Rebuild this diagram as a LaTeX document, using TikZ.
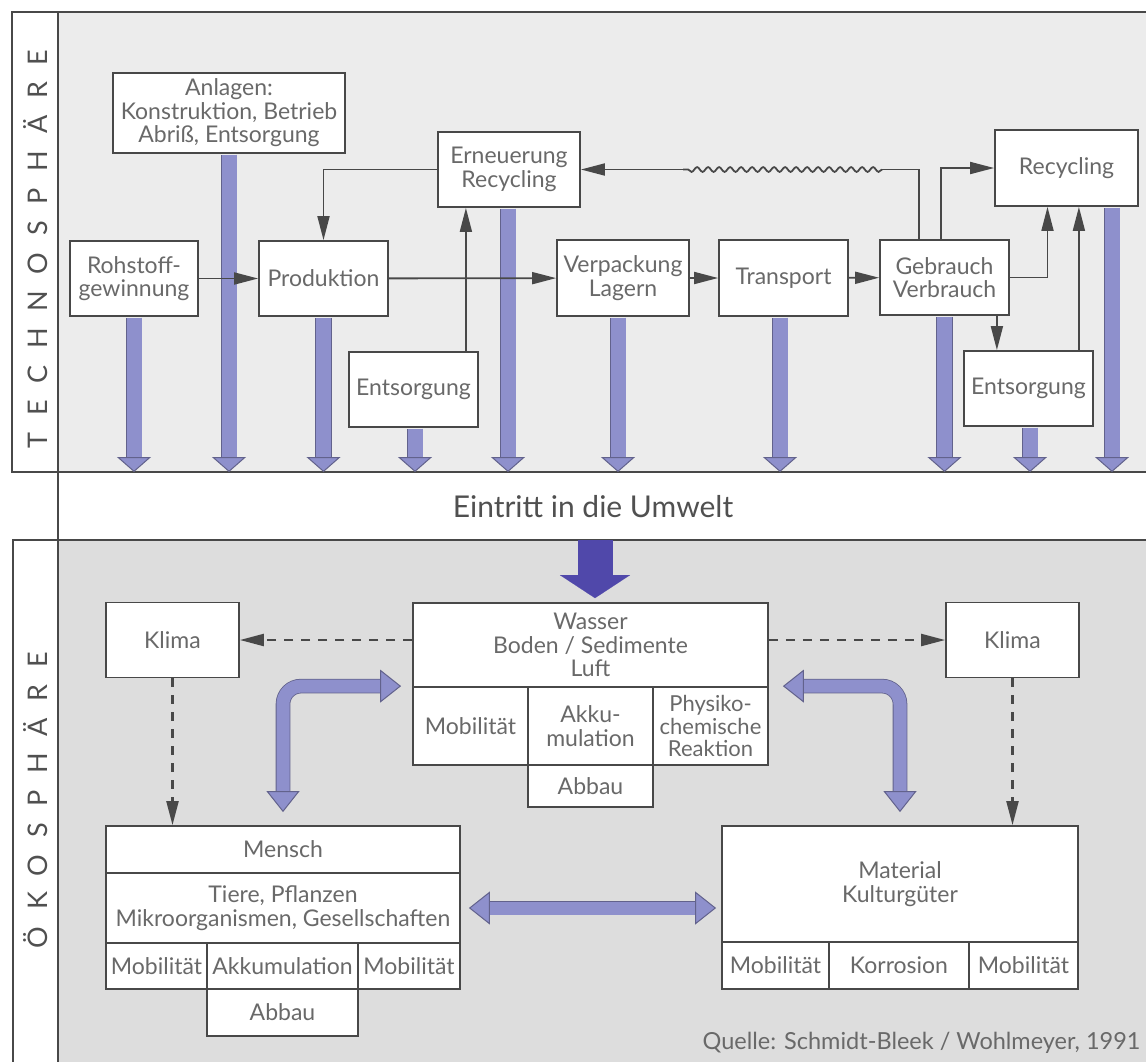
\documentclass[tikz,border=0pt]{standalone}
\usepackage{fontspec}
\setmainfont{Lato}
\newfontfamily\spacedfont[LetterSpace=62]{Lato}
\usepackage{tikz}
\usetikzlibrary{calc}
\usetikzlibrary{arrows.meta}
\usetikzlibrary{decorations.pathmorphing}

\definecolor{linegray}{RGB}{72,72,72}
\definecolor{txt}{RGB}{105,105,105}
\definecolor{lbl}{RGB}{80,80,80}
\definecolor{lav}{RGB}{142,144,204}
\definecolor{lavd}{RGB}{98,98,140}
\definecolor{dblue}{RGB}{80,72,170}
\definecolor{tgray}{RGB}{236,236,236}
\definecolor{bgray}{RGB}{221,221,221}

\begin{document}
\begin{tikzpicture}[x=1pt,y=-1pt,>={Triangle[length=24pt,width=12pt]},
	box/.style={draw=linegray,fill=white,line width=1.8pt,inner sep=1pt,align=center,text=txt,font=\fontsize{23}{23.5}\selectfont},
	sz/.style 2 args={minimum width=#1pt,minimum height=#2pt},
	conn/.style={draw=linegray,line width=1.8pt},
	dashline/.style={line width=2.2pt,dash pattern=on 9pt off 8pt},
	fat/.style={line width=15pt,draw=lav,shorten <=0.9pt,-{Triangle[length=15pt,width=34pt,line width=1pt,fill=lav,color=lavd]},preaction={draw=lavd,line width=16.6pt,arrows=-,shorten >=13pt}},
	bent/.style={line width=13pt,draw=lav,rounded corners=18pt,{Triangle[length=21pt,width=33pt,line width=1pt,fill=lav,color=lavd]}-{Triangle[length=21pt,width=33pt,line width=1pt,fill=lav,color=lavd]},preaction={draw=lavd,line width=14.6pt,arrows=-,shorten >=19pt,shorten <=19pt}},
	dkfat/.style={line width=35pt,draw=dblue,-{Triangle[length=23pt,width=70pt,line width=0.1pt]}},
	]

	\useasboundingbox (0,0) rectangle (1146,1061);
	\clip (0,0) rectangle (1146,1061);
	\fill[tgray] (58,12) rectangle (1160,472);
	\fill[bgray] (58,540) rectangle (1160,1075);
	\draw[linegray,line width=1.6pt] (12,12) rectangle (1160,472);
	\draw[linegray,line width=1.6pt] (13,540) rectangle (1160,1075);
	\draw[linegray,line width=1.6pt] (58,12) -- (58,1075);
	\coordinate (tb) at (0,472);
	\coordinate (bt) at (0,540);

	\node[rotate=90,text=lbl,font=\spacedfont\fontsize{27}{27}\selectfont] (techno) at (36,249) {TECHNOSPHÄRE};
	\node[rotate=90,text=lbl,font=\spacedfont\fontsize{27}{27}\selectfont] (oeko) at (36,800) {ÖKOSPHÄRE};
	\node[text=lbl,font=\fontsize{30}{30}\selectfont] (eintritt) at (593,507) {Eintritt in die Umwelt};

	\node[box,sz={232}{80}] (anl) at (229,113) {Anlagen:\\Konstruktion, Betrieb\\Abriß, Entsorgung};
	\node[box,sz={128}{75}] (roh) at (134,278.5) {Rohstoff-\\gewinnung};
	\node[box,sz={129}{75}] (prod) at (323.5,278.5) {Produktion};
	\node[box,sz={129}{75}] (ents1) at (413.5,389.5) {Entsorgung};
	\node[box,sz={142}{75}] (ern) at (509,169.5) {Erneuerung\\Recycling};
	\node[box,sz={132}{76}] (verp) at (623,278) {Verpackung\\Lagern};
	\node[box,sz={129}{76}] (trans) at (783.5,278) {Transport};
	\node[box,sz={129}{75}] (gebr) at (944.5,277.5) {Gebrauch\\Verbrauch};
	\node[box,sz={143}{76}] (recy) at (1066.5,168) {Recycling};
	\node[box,sz={129}{75}] (ents2) at (1028.5,388.5) {Entsorgung};

	\draw[fat] (roh.south) -- (roh.south |- tb);
	\draw[fat] (anl.south) -- (anl.south |- tb);
	\draw[fat] (prod.south) -- (prod.south |- tb);
	\draw[fat] ([xshift=1.5pt]ents1.south) -- ([xshift=1.5pt]ents1.south |- tb);
	\draw[fat] ([xshift=-1pt]ern.south) -- ([xshift=-1pt]ern.south |- tb);
	\draw[fat] ([xshift=-5pt]verp.south) -- ([xshift=-5pt]verp.south |- tb);
	\draw[fat] ([xshift=-3.5pt]trans.south) -- ([xshift=-3.5pt]trans.south |- tb);
	\draw[fat] (gebr.south) -- (gebr.south |- tb);
	\draw[fat] ([xshift=1.5pt]ents2.south) -- ([xshift=1.5pt]ents2.south |- tb);
	\draw[fat] ([xshift=45.5pt]recy.south) -- ([xshift=45.5pt]recy.south |- tb);

	\draw[conn,->] (roh) -- (prod);
	\draw[conn,->] (prod) -- (verp);
	\draw[conn,->] (verp) -- (trans);
	\draw[conn,->] (trans) -- (gebr);
	\draw[conn,->] (ern.west) -| (prod.north);
	\draw[conn,->] ([xshift=-13pt]ents1.north east) -- ([xshift=-13pt]ents1.north east |- ern.south);
	\coordinate (w1) at (882,169.5);
	\coordinate (w2) at (683,169.5);
	\draw[conn] ([xshift=40pt]gebr.north west) |- (w1);
	\draw[conn,decorate,decoration={snake,amplitude=2.4pt,segment length=11pt}] (w1) -- (w2);
	\draw[conn,->] (w2) -- (ern.east);
	\draw[conn,->] ([xshift=62pt]gebr.north west) |- (recy.west);
	\draw[conn,->] (gebr.east) -| ([xshift=-19pt]recy.south);
	\draw[conn,->] ([xshift=-13pt]gebr.south east) -- ([xshift=-13pt]gebr.south east |- ents2.north);
	\draw[conn,->] ([xshift=-15pt]ents2.north east) -- ([xshift=-15pt]ents2.north east |- recy.south);

	\node[box,sz={133}{75}] (klima1) at (172.5,640) {Klima};
	\node[box,sz={355}{84}] (wasser) at (590.5,645) {Wasser\\Boden / Sedimente\\Luft};
	\node[box,sz={115}{78}] (mob1) at (470.5,726) {Mobilität};
	\node[box,sz={125}{78}] (akku1) at (590.5,726) {Akku-\\mulation};
	\node[box,sz={115}{78},font=\fontsize{22}{22.5}\selectfont] (phys) at (710.5,726) {Physiko-\\chemische\\Reaktion};
	\node[box,sz={125}{42}] (abbau1) at (590.5,786) {Abbau};
	\node[box,sz={133}{75}] (klima2) at (1012.5,640) {Klima};
	\node[box,sz={354}{47}] (mensch) at (283,849.5) {Mensch};
	\node[box,sz={354}{70}] (tiere) at (283,908) {Tiere, Pflanzen\\Mikroorganismen, Gesellschaften};
	\node[box,sz={101}{46}] (mob2) at (156.5,966) {Mobilität};
	\node[box,sz={151}{46}] (akku2) at (282.5,966) {Akkumulation};
	\node[box,sz={102}{46}] (mob3) at (409,966) {Mobilität};
	\node[box,sz={151}{47}] (abbau2) at (282.5,1012.5) {Abbau};
	\node[box,sz={356}{116}] (mat) at (900,884) {Material\\Kulturgüter};
	\node[box,sz={107}{47}] (mob4) at (775.5,965.5) {Mobilität};
	\node[box,sz={140}{47}] (korr) at (899,965.5) {Korrosion};
	\node[box,sz={109}{47}] (mob5) at (1023.5,965.5) {Mobilität};
	\node[anchor=east,text=txt,font=\fontsize{23.5}{23.5}\selectfont] (quelle) at (1144,1043) {Quelle: Schmidt-Bleek / Wohlmeyer, 1991};

	\draw[dkfat] ([xshift=4.5pt]wasser.north |- bt) -- ([xshift=4.5pt,yshift=4pt]wasser.north);
	\draw[conn,dashline,->] (wasser.west |- klima1.east) -- (klima1.east);
	\draw[conn,dashline,->] (wasser.east |- klima2.west) -- (klima2.west);
	\draw[conn,dashline,->] (klima1.south) -- (klima1.south |- mensch.north);
	\draw[conn,dashline,->] (klima2.south) -- (klima2.south |- mat.north);
	\draw[bent] ([xshift=-11pt]mob1.north west) -| ([yshift=13pt]mensch.north);
	\draw[bent] ([xshift=14pt]phys.north east) -| ([yshift=13pt]mat.north);
	\draw[bent] ([xshift=8pt]tiere.east) -- ([xshift=-5pt]tiere.east -| mat.west);

\end{tikzpicture}
\end{document}
